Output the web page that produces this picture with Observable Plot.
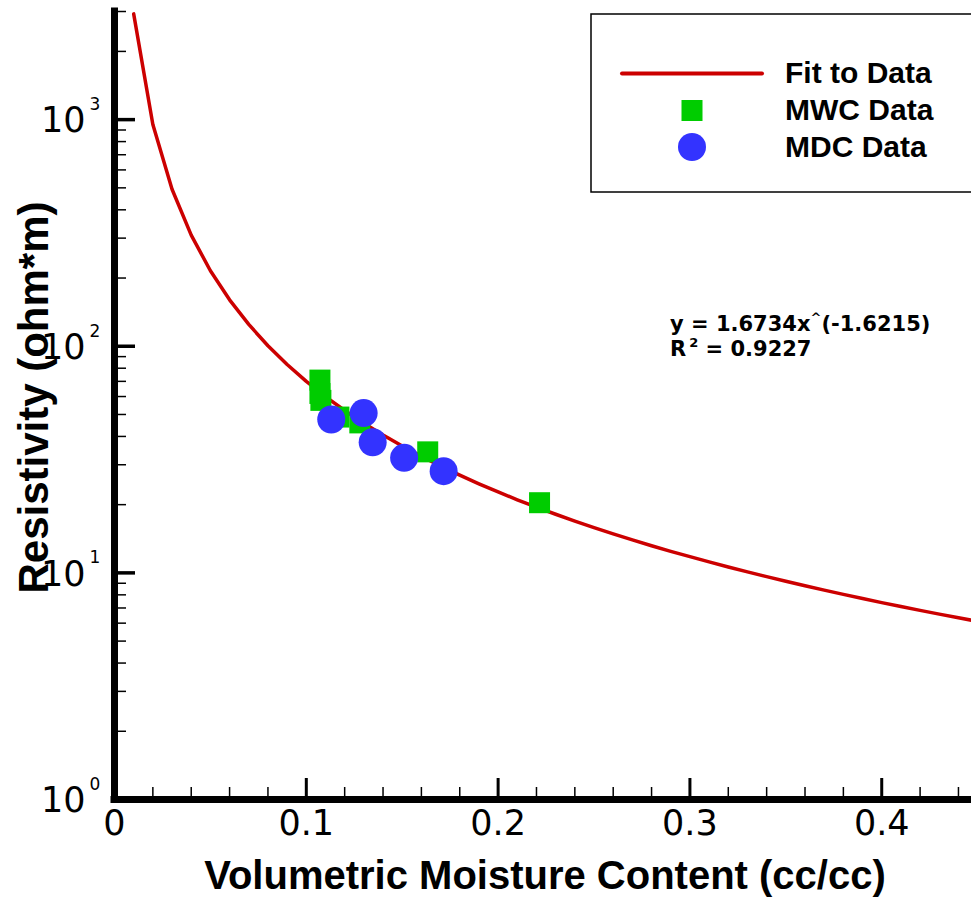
<!DOCTYPE html>
<html><head><meta charset="utf-8">
<script src="https://cdn.jsdelivr.net/npm/d3@7"></script>
<script src="https://cdn.jsdelivr.net/npm/@observablehq/plot@0.6"></script>
<style>
html,body{margin:0;padding:0;background:#fff;overflow:hidden;}
#chart{position:relative;width:971px;height:898px;}
</style></head><body><div id="chart"></div>
<script>
// Fit curve y = 1.6734 x^(-1.6215), values read/evaluated at 0.01 steps
const fitX = [0.01,0.02,0.03,0.04,0.05,0.06,0.07,0.08,0.09,0.10,0.11,0.12,0.13,0.14,0.15,0.16,0.17,0.18,0.19,0.20,0.21,0.22,0.23,0.24,0.25,0.26,0.27,0.28,0.29,0.30,0.31,0.32,0.33,0.34,0.35,0.36,0.37,0.38,0.39,0.40,0.41,0.42,0.43,0.44,0.45];
const fitY = [2928,951.7,493.1,309.3,215.4,160.3,124.8,100.5,83.04,70.00,59.98,52.08,45.74,40.56,36.27,32.67,29.61,26.99,24.72,22.75,21.02,19.49,18.14,16.93,15.84,14.87,13.98,13.18,12.45,11.79,11.18,10.62,10.10,9.623,9.181,8.771,8.390,8.035,7.703,7.394,7.104,6.831,6.576,6.335,6.108];
// MWC data (squares)
const mwcX = [0.1071,0.1071,0.1076,0.1170,0.1279,0.1633,0.2216];
const mwcY = [70.9,61.9,57.7,48.7,45.9,34.2,20.4];
// MDC data (circles)
const mdcX = [0.1130,0.1299,0.1346,0.1510,0.1716];
const mdcY = [47.5,50.7,37.7,32.2,28.1];
// ticks
const xMajor = [0,0.1,0.2,0.3,0.4];
const xMajorLabels = ["0","0.1","0.2","0.3","0.4"];
const xMinor = [0.02,0.04,0.06,0.08,0.12,0.14,0.16,0.18,0.22,0.24,0.26,0.28,0.32,0.34,0.36,0.38,0.42,0.44];
const yDecades = [1,10,100,1000];
const yExps = ["0","1","2","3"];
const yMinor = [2,3,4,5,6,7,8,9,20,30,40,50,60,70,80,90,200,300,400,500,600,700,800,900,2000,3000];
// texts
const xTitle = "Volumetric Moisture Content (cc/cc)";
const yTitle = "Resistivity (ohm*m)";
const legendLabels = ["Fit to Data","MWC Data","MDC Data"];
const eqMain = "y = 1.6734x", eqCaret = "^", eqExp = "(-1.6215)";
const r2Label = "R", r2Sup = "2", r2Value = " = 0.9227";

const RED = "#cc0000", GREEN = "#00cc00", BLUE = "#3333ff";

const fit = fitX.map((x,i)=>({x, y: fitY[i]}));
const mwc = mwcX.map((x,i)=>({x, y: mwcY[i]}));
const mdc = mdcX.map((x,i)=>({x, y: mdcY[i]}));

const W=971, H=898, mL=114, mR=0, mT=11, mB=99;
const plotW = W-mL-mR, plotH = H-mT-mB;
const tickFont = "DejaVu Sans, sans-serif";
const boldFont = "Liberation Sans, Arial, sans-serif";

const chart = Plot.plot({
  width: W, height: H,
  marginLeft: mL, marginRight: mR, marginTop: mT, marginBottom: mB,
  style: {background: "white"},
  x: {domain: [0, 0.4468], axis: null},
  y: {type: "log", domain: [1, 3000], axis: null},
  marks: [
    Plot.line(fit, {x: "x", y: "y", stroke: RED, strokeWidth: 3.5, clip: true}),
    Plot.dot(mwc, {x: "x", y: "y", symbol: "square", r: 11.85, fill: GREEN, stroke: "none"}),
    Plot.dot(mdc, {x: "x", y: "y", symbol: "circle", r: 14, fill: BLUE, stroke: "none"}),
    Plot.ruleX(xMinor, {x: d=>d, insetTop: plotH-12, stroke: "#000", strokeWidth: 1.5}),
    Plot.ruleX(xMajor.slice(1), {x: d=>d, insetTop: plotH-21, stroke: "#000", strokeWidth: 3}),
    Plot.ruleY(yMinor, {y: d=>d, insetRight: plotW-12, stroke: "#000", strokeWidth: 1.5}),
    Plot.ruleY(yDecades.slice(1), {y: d=>d, insetRight: plotW-21, stroke: "#000", strokeWidth: 3.5}),
    Plot.ruleX([0], {x: d=>d, stroke: "#000", strokeWidth: 7, strokeLinecap: "square"}),
    Plot.ruleY([1], {y: d=>d, stroke: "#000", strokeWidth: 7, strokeLinecap: "square"}),
    Plot.text(xMajor, {x: d=>d, frameAnchor: "bottom", textAnchor: "middle", lineAnchor: "top", dy: 11,
      text: (d,i)=>xMajorLabels[i], fontSize: 35, fontFamily: tickFont, fill: "#000"}),
    Plot.text(yDecades, {y: d=>d, frameAnchor: "left", textAnchor: "end", lineAnchor: "middle",
      dx: -29, dy: 1.5, text: ()=>"10", fontSize: 35, fontFamily: tickFont, fill: "#000"}),
    Plot.text(yDecades, {y: d=>d, frameAnchor: "left", textAnchor: "start", lineAnchor: "middle",
      dx: -25, dy: -15, text: (d,i)=>yExps[i], fontSize: 17, fontFamily: tickFont, fill: "#000"}),
    Plot.text([xTitle], {frameAnchor: "bottom", textAnchor: "middle", lineAnchor: "bottom", dx: 2, dy: 89,
      fontSize: 40, fontWeight: "bold", fontFamily: boldFont, fill: "#000"}),
    Plot.text([yTitle], {frameAnchor: "left", textAnchor: "middle", rotate: -90, lineAnchor: "bottom", dx: -67, dy: -8,
      fontSize: 42, fontWeight: "bold", fontFamily: boldFont, fill: "#000"})
  ]
});

const svg = d3.select(chart);
// legend
const lg = svg.append("g").attr("class","legend").attr("text-anchor","start");
lg.append("rect").attr("x",591).attr("y",14).attr("width",400).attr("height",178)
  .attr("fill","white").attr("stroke","#000").attr("stroke-width",1.5);
lg.append("line").attr("x1",622).attr("x2",762).attr("y1",73.5).attr("y2",73.5)
  .attr("stroke",RED).attr("stroke-width",4).attr("stroke-linecap","round");
lg.append("rect").attr("x",681.5).attr("y",100).attr("width",21).attr("height",21).attr("fill",GREEN);
lg.append("circle").attr("cx",692).attr("cy",147).attr("r",14).attr("fill",BLUE);
const baselines = [82.5,119.5,156.5];
legendLabels.forEach((t,i)=>{
  lg.append("text").attr("x",785).attr("y",baselines[i]).attr("text-anchor","start").text(t)
    .attr("font-family",boldFont).attr("font-weight","bold").attr("font-size",30).attr("fill","#000");
});
// equation annotation
const eq = svg.append("g").attr("font-family","DejaVu Sans, sans-serif").attr("font-weight","bold")
  .attr("font-size",21).attr("fill","#000").attr("text-anchor","start").style("white-space","pre");
const t1 = eq.append("text").attr("x",670).attr("y",331);
t1.append("tspan").text(eqMain);
t1.append("tspan").attr("font-size",13).attr("dy",-9).text(eqCaret);
t1.append("tspan").attr("dy",9).text(eqExp);
const t2 = eq.append("text").attr("x",670).attr("y",356);
t2.append("tspan").text(r2Label);
t2.append("tspan").attr("font-size",13).attr("dy",-9).attr("dx",3).text(r2Sup);
t2.append("tspan").attr("dy",9).text(r2Value);

document.getElementById("chart").appendChild(chart);
</script></body></html>
